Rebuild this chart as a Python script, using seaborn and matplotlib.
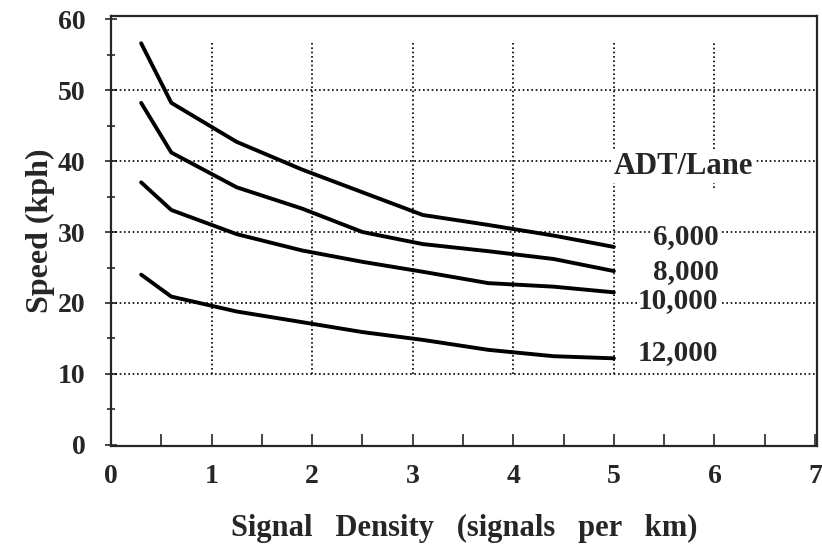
import pandas as pd
import numpy as np
import matplotlib
matplotlib.use('Agg')
import matplotlib.pyplot as plt
import seaborn as sns

# signal density (signals per km) and speed (kph)
density = [0.3, 0.6, 1.25, 1.9, 2.5, 3.1, 3.75, 4.4, 5.0]
speed_6000 = [56.6, 48.2, 42.7, 38.8, 35.6, 32.4, 31.0, 29.5, 27.9]
speed_8000 = [48.2, 41.2, 36.3, 33.3, 30.0, 28.3, 27.3, 26.2, 24.5]
speed_10000 = [37.0, 33.1, 29.7, 27.4, 25.8, 24.4, 22.8, 22.3, 21.5]
speed_12000 = [24.0, 20.9, 18.8, 17.3, 15.9, 14.8, 13.4, 12.5, 12.2]
adt_labels = ['6,000', '8,000', '10,000', '12,000']
x_ticks = [0, 1, 2, 3, 4, 5, 6, 7]
y_ticks = [0, 10, 20, 30, 40, 50, 60]

series = [speed_6000, speed_8000, speed_10000, speed_12000]
df = pd.concat([pd.DataFrame({'density': density, 'speed': s, 'adt': lab})
                for s, lab in zip(series, adt_labels)], ignore_index=True)

sns.set_style('ticks')
plt.rcParams['font.family'] = ['Liberation Serif', 'DejaVu Serif']
plt.rcParams['font.weight'] = 'bold'

fig = plt.figure(figsize=(8.22, 5.56), dpi=100)
ax = fig.add_axes([0.135, 0.198, 0.859, 0.774])

# dotted grid
for yv in [10, 20, 30, 40, 50]:
    ax.axhline(yv, color='black', lw=1.2, ls=(0, (1, 1.6)), zorder=1)
for xv in [1, 2, 3, 4, 5]:
    ax.axvline(xv, ymin=0.167, ymax=0.94, color='black', lw=1.2, ls=(0, (1, 1.6)), zorder=1)
ax.axvline(6, ymin=0.6, ymax=0.94, color='black', lw=1.2, ls=(0, (1, 1.6)), zorder=1)

sns.lineplot(data=df, x='density', y='speed', hue='adt', palette=['black'] * 4,
             linewidth=2.8, legend=False, ax=ax, zorder=3)

ax.set_xlim(0, 7.02)
ax.set_ylim(-0.14, 60.5)
ax.set_xticks(x_ticks)
ax.set_yticks(y_ticks)
ax.set_xticks(np.arange(0.5, 7, 1.0), minor=True)
ax.set_yticks([5, 15, 25, 35, 45, 55], minor=True)
ax.tick_params(axis='x', which='both', direction='in', length=9, width=1.2,
               pad=13, labelsize=20)
ax.tick_params(axis='y', which='major', direction='inout', length=9, width=1.2,
               pad=14, labelsize=20)
ax.tick_params(axis='y', which='minor', direction='inout', length=6, width=1.2)
for sp in ax.spines.values():
    sp.set_linewidth(1.6)

ax.set_xlabel('Signal   Density   (signals   per   km)', fontsize=22,
              fontweight='bold', labelpad=18)
ax.set_ylabel('Speed (kph)', fontsize=23, fontweight='bold', labelpad=2)

box = dict(facecolor='white', edgecolor='none', pad=1)
ax.text(5.69, 39.2, 'ADT/Lane', ha='center', va='center', fontsize=22,
        fontweight='bold', bbox=box, zorder=4)
label_y = [29.4, 24.5, 20.4, 13.0]
for lab, yv in zip(adt_labels, label_y):
    ax.text(6.04, yv, lab, ha='right', va='center', fontsize=21,
            fontweight='bold', bbox=box, zorder=4)

fig.savefig('out.png', dpi=100)
